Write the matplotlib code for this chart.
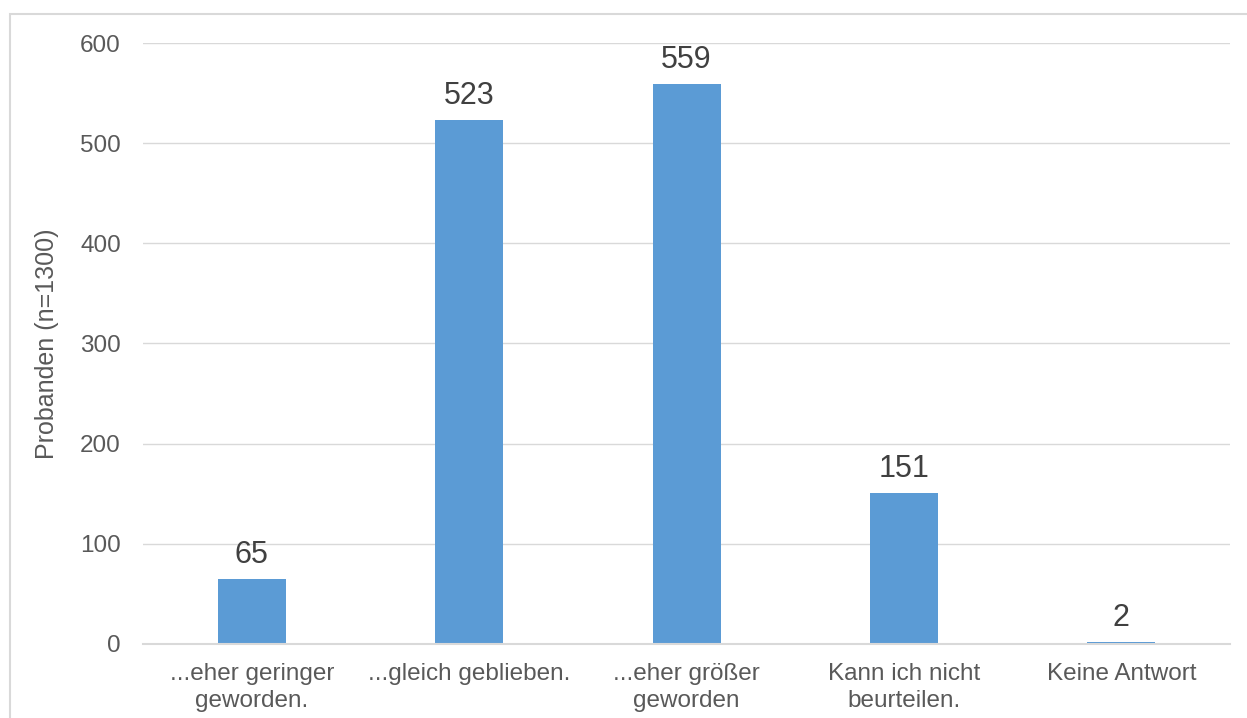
import matplotlib
matplotlib.use("Agg")
import matplotlib.pyplot as plt
from matplotlib.patches import Rectangle

# data
categories = ["...eher geringer\ngeworden.", "...gleich geblieben.", "...eher größer\ngeworden",
              "Kann ich nicht\nbeurteilen.", "Keine Antwort"]
values = [65, 523, 559, 151, 2]
y_ticks = [0, 100, 200, 300, 400, 500, 600]

plt.rcParams['font.family'] = ['Liberation Sans', 'DejaVu Sans']

fig = plt.figure(figsize=(12.47, 7.18), dpi=100)
ax = fig.add_axes([0.1147, 0.1031, 0.8717, 0.837])

# light border of the chart area (left and top visible)
fig.patches.append(Rectangle((10 / 1247, -0.1), 1.2, 1 - 13.5 / 718 + 0.1,
                             transform=fig.transFigure, fill=False,
                             edgecolor='#D9D9D9', linewidth=1.5))

x = range(len(values))
bars = ax.bar(x, values, width=0.313, color='#5B9BD5', zorder=3)
for b, v in zip(bars, values):
    ax.text(b.get_x() + b.get_width() / 2, v + 9, str(v), ha='center', va='bottom',
            fontsize=22, color='#404040')

ax.set_xlim(-0.5, len(values) - 0.5)
ax.set_ylim(0, 600)
ax.set_yticks(y_ticks)
ax.yaxis.grid(True, color='#D9D9D9', linewidth=1.0, zorder=0)
ax.set_xticks(list(x))
ax.set_xticklabels(categories, linespacing=1.28)
ax.tick_params(axis='both', length=0, labelsize=17.5, labelcolor='#595959')
ax.tick_params(axis='x', pad=14)
ax.tick_params(axis='y', pad=16)
for s in ['top', 'right', 'left']:
    ax.spines[s].set_visible(False)
ax.spines['bottom'].set_color('#D9D9D9')
ax.spines['bottom'].set_linewidth(1.5)
ax.spines['bottom'].set_zorder(4)
ax.set_ylabel("Probanden (n=1300)", fontsize=18, color='#595959', labelpad=15)

fig.savefig("out.png", dpi=100)
